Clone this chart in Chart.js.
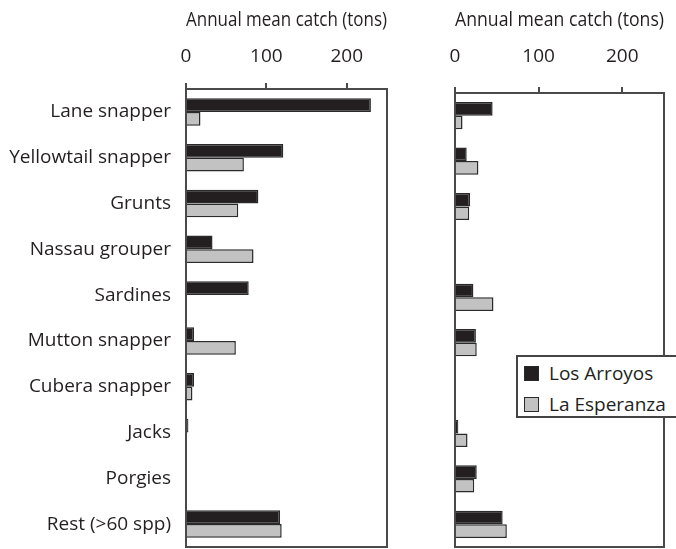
<!DOCTYPE html>
<html>
<head>
<meta charset="utf-8">
<script src="https://cdn.jsdelivr.net/npm/chart.js@4/dist/chart.umd.min.js"></script>
<style>
  body { margin: 0; background: #fff; }
  #wrap { position: relative; width: 676px; height: 549px; overflow: hidden; }
  #leftChart { position: absolute; left: 0; top: 0; }
  #rightChart { position: absolute; left: 400px; top: 0; }
  #legend { position: absolute; left: 516px; top: 355px; width: 175px; height: 59px;
    border: 2px solid #444; background: #fff; font: 19px 'Open Sans'; color: #231f20; }
  .item { position: absolute; left: 6px; height: 26px; line-height: 26px; white-space: nowrap; }
  .box { position: absolute; left: 0; top: 6px; width: 13px; height: 13px; border: 1.5px solid #2a2a2a; }
  .item span.txt { position: absolute; left: 25px; top: 0; }
</style>
</head>
<body>
<div id="wrap">
  <canvas id="leftChart" width="400" height="549"></canvas>
  <canvas id="rightChart" width="276" height="549"></canvas>
  <div id="legend"></div>
</div>
<script>
// categories and values (tons)
const species = ['Lane snapper', 'Yellowtail snapper', 'Grunts', 'Nassau grouper', 'Sardines',
  'Mutton snapper', 'Cubera snapper', 'Jacks', 'Porgies', 'Rest (>60 spp)'];
const leftArroyos = [230, 121, 90, 33, 78, 10, 10, 3, null, 117];
const leftEsperanza = [18, 72, 65, 84, null, 62, 8, null, null, 119];
const rightArroyos = [45, 14, 18, null, 22, 25, null, 4, 26, 57];
const rightEsperanza = [9, 28, 17, null, 46, 26, null, 15, 23, 62];
const xTicks = [0, 100, 200];
const xMax = 250;
const seriesNames = ['Los Arroyos', 'La Esperanza'];
const seriesColors = ['#231f20', '#c2c2c2'];

const ink = '#231f20';
const frame = '#4a4a4a';
const labelFont = { family: 'Open Sans', size: 19 };
const titleFont = { family: 'Open Sans', size: 20 };

// draws the right and bottom sides of the box around the plot
const boxPlugin = {
  id: 'box',
  afterDraw(chart) {
    const a = chart.chartArea;
    const ctx = chart.ctx;
    ctx.save();
    ctx.strokeStyle = frame;
    ctx.lineWidth = 2;
    ctx.beginPath();
    ctx.moveTo(a.left, a.bottom);
    ctx.lineTo(a.right, a.bottom);
    ctx.lineTo(a.right, a.top);
    ctx.stroke();
    ctx.restore();
  }
};

function makeChart(id, arroyos, esperanza, yWidth, xHeight, tickPad, showLabels, padRight) {
  const ctx = document.getElementById(id).getContext('2d');
  return new Chart(ctx, {
    type: 'bar',
    data: {
      labels: species,
      datasets: [
        { label: seriesNames[0], data: arroyos, backgroundColor: seriesColors[0],
          borderColor: '#2a2a2a', borderWidth: 1.5 },
        { label: seriesNames[1], data: esperanza, backgroundColor: seriesColors[1],
          borderColor: '#2a2a2a', borderWidth: 1.5 }
      ]
    },
    options: {
      indexAxis: 'y',
      responsive: false,
      animation: false,
      layout: { padding: { top: 0, right: padRight, bottom: 2, left: 0 } },
      datasets: { bar: { categoryPercentage: 0.6, barPercentage: 1.0 } },
      plugins: { legend: { display: false }, tooltip: { enabled: false } },
      scales: {
        x: {
          position: 'top',
          min: 0,
          max: xMax,
          afterBuildTicks: s => { s.ticks = xTicks.map(v => ({ value: v })); },
          afterFit: s => { s.height = xHeight; },
          grid: { drawOnChartArea: false, drawTicks: true, tickLength: 6, color: frame, lineWidth: 2 },
          border: { display: true, color: frame, width: 2 },
          ticks: { color: ink, font: labelFont, padding: tickPad, maxRotation: 0 },
          title: { display: true, text: 'Annual mean catch (tons)', color: ink, font: titleFont,
            padding: { top: 8, bottom: 0 } }
        },
        y: {
          afterFit: s => { s.width = yWidth; s.paddingTop = 0; s.paddingBottom = 0; },
          grid: { display: true, drawOnChartArea: false, drawTicks: false },
          border: { display: true, color: frame, width: 2 },
          ticks: { display: showLabels, color: ink, font: labelFont, padding: 15 }
        }
      }
    },
    plugins: [boxPlugin]
  });
}

makeChart('leftChart', leftArroyos, leftEsperanza, 186, 89, 15, true, 13);
makeChart('rightChart', rightArroyos, rightEsperanza, 55, 93, 19, false, 12);

// legend built from the series names and colours
const legend = document.getElementById('legend');
seriesNames.forEach((name, i) => {
  const item = document.createElement('div');
  item.className = 'item';
  item.style.top = (3 + i * 31) + 'px';
  item.innerHTML = '<span class="box" style="background:' + seriesColors[i] + '"></span>' +
    '<span class="txt">' + name + '</span>';
  legend.appendChild(item);
});
</script>
</body>
</html>
